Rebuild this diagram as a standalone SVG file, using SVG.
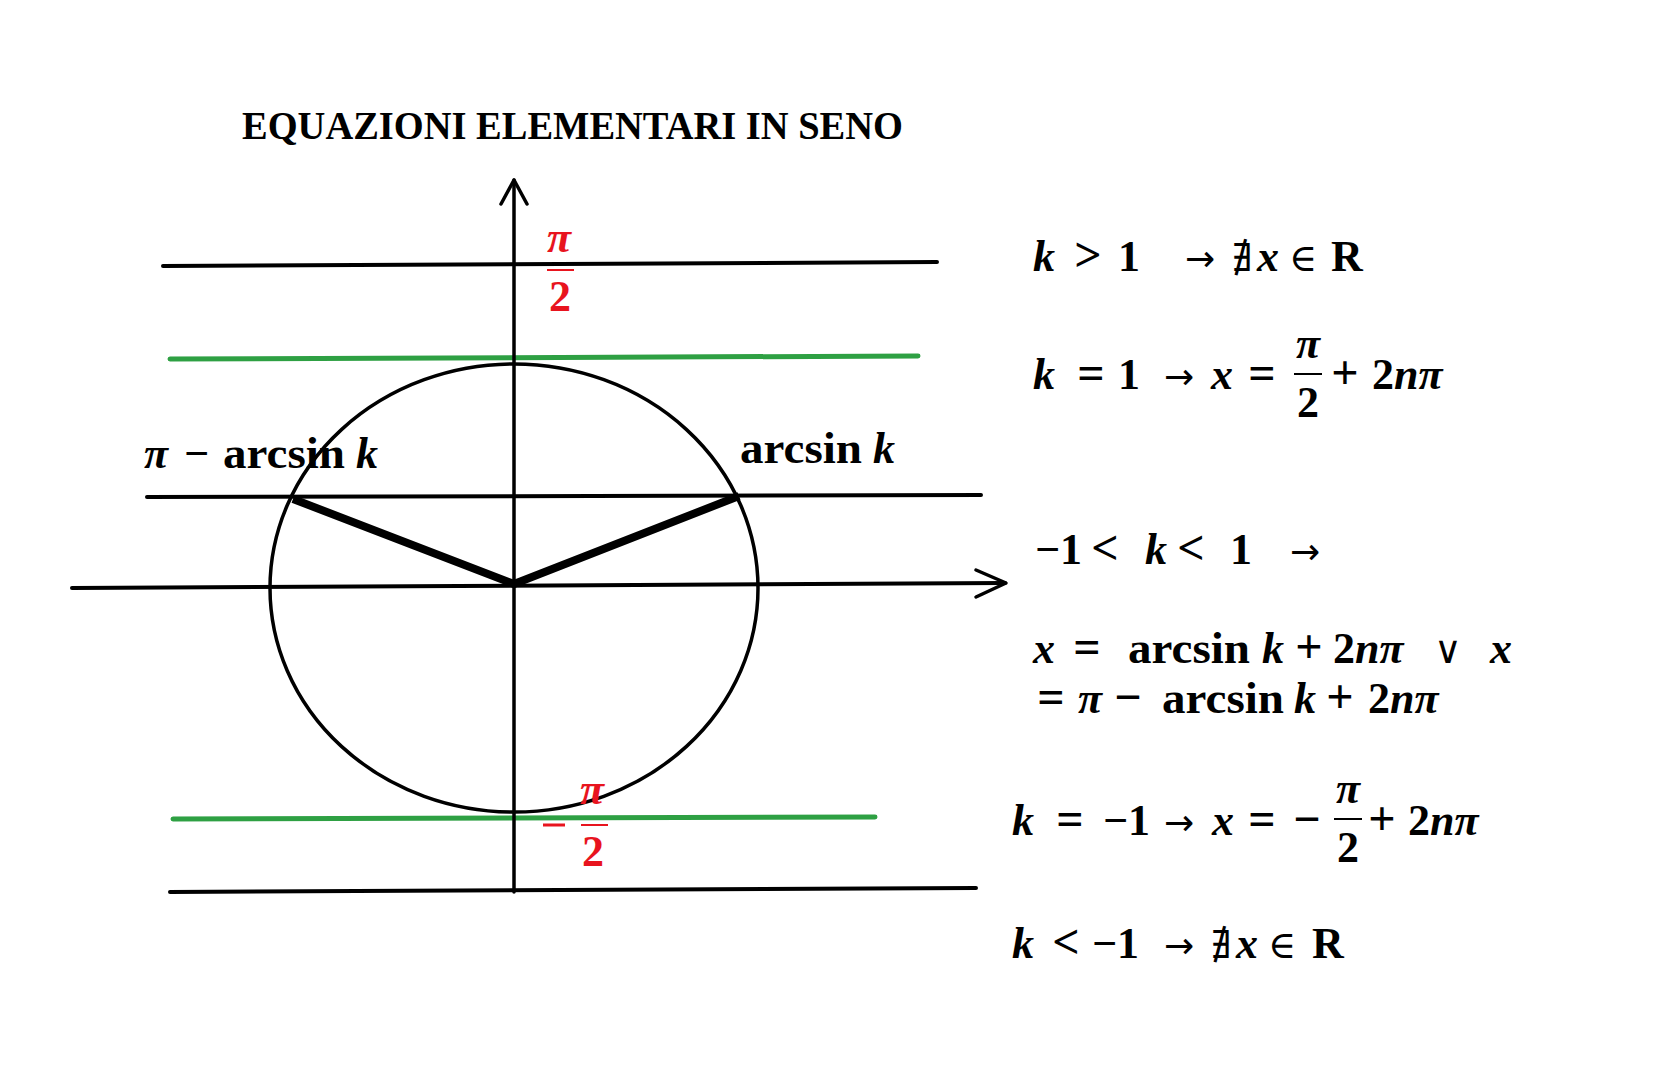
<svg xmlns="http://www.w3.org/2000/svg" width="1660" height="1080" viewBox="0 0 1660 1080">
<style>
.t{font-family:"Liberation Serif","DejaVu Serif",serif;font-weight:bold;fill:#000}
.m{font-family:"Liberation Serif","DejaVu Serif",serif;font-weight:bold;font-size:44px;fill:#000}
.i{font-style:italic}
.o{font-size:48px;text-anchor:middle}
.a{font-family:"DejaVu Sans",sans-serif;font-weight:normal;font-size:36px;text-anchor:middle}
.s{font-family:"DejaVu Serif",serif;font-weight:normal;font-size:38px;text-anchor:middle}
.r{fill:#e8141e}
.ln{stroke:#000;stroke-width:4;stroke-linecap:round;fill:none}
.g{stroke:#2ea043;stroke-width:5;stroke-linecap:round;fill:none}
.ax{stroke:#000;stroke-width:3.5;fill:none;stroke-linecap:round;stroke-linejoin:round}
</style>
<rect width="1660" height="1080" fill="#fff"/>
<g id="title"><text class="t" x="242" y="139" font-size="40" textLength="661" lengthAdjust="spacingAndGlyphs">EQUAZIONI ELEMENTARI IN SENO</text></g>
<g id="connectors">
<line class="ln" x1="163" y1="266" x2="937" y2="262"/>
<line class="g" x1="170" y1="359" x2="918" y2="356"/>
<line class="ln" x1="147" y1="497" x2="981" y2="495"/>
<line class="g" x1="173" y1="819" x2="875" y2="817"/>
<line class="ln" x1="170" y1="892" x2="976" y2="888"/>
<ellipse cx="514" cy="588" rx="244" ry="224" stroke="#000" stroke-width="3.5" fill="none"/>
<line class="ax" x1="514" y1="892" x2="514" y2="180"/>
<polyline class="ax" points="501,204 514,180 527,204"/>
<line class="ln" x1="72" y1="588" x2="1005" y2="583"/>
<polyline class="ax" points="976,570 1006,583 976,597"/>
<polyline points="293,499 514,584 739,496" stroke="#000" stroke-width="8" fill="none" stroke-linejoin="round"/>
</g>
<g id="label-top" class="m r">
<text x="559" y="252" text-anchor="middle" class="i">π</text>
<line x1="547" y1="270" x2="574" y2="270" stroke="#e8141e" stroke-width="2"/>
<text x="560" y="311" text-anchor="middle">2</text>
</g>
<g id="label-bottom" class="m r">
<text x="592" y="804" text-anchor="middle" class="i">π</text>
<line x1="543" y1="825" x2="565" y2="825" stroke="#e8141e" stroke-width="3"/>
<line x1="581" y1="825" x2="608" y2="825" stroke="#e8141e" stroke-width="2"/>
<text x="593" y="866" text-anchor="middle">2</text>
</g>
<g id="label-left" class="m">
<text x="144" y="468" class="i">π</text>
<text x="184" y="468">−</text>
<text x="223" y="468" textLength="122" lengthAdjust="spacingAndGlyphs">arcsin</text>
<text x="356" y="468" class="i">k</text>
</g>
<g id="label-right" class="m">
<text x="740" y="463" textLength="122" lengthAdjust="spacingAndGlyphs">arcsin</text>
<text x="873" y="463" class="i">k</text>
</g>
<g id="eq1"><text class="m" y="271"><tspan x="1033" class="i">k</tspan><tspan x="1088" class="o">&gt;</tspan><tspan x="1118">1</tspan><tspan x="1200" class="a">→</tspan><tspan x="1242" class="s">∄</tspan><tspan x="1257" class="i">x</tspan><tspan x="1303" class="s">∈</tspan><tspan x="1331">R</tspan></text></g>
<g id="eq2">
<text class="m" y="389"><tspan x="1033" class="i">k</tspan><tspan x="1091" class="o">=</tspan><tspan x="1118">1</tspan><tspan x="1179" class="a">→</tspan><tspan x="1211" class="i">x</tspan><tspan x="1262" class="o">=</tspan></text>
<text class="m i" x="1308" y="358" text-anchor="middle">π</text>
<line x1="1294" y1="374" x2="1322" y2="374" stroke="#000" stroke-width="2"/>
<text class="m" x="1308" y="417" text-anchor="middle">2</text>
<text class="m" y="389"><tspan x="1345" class="o">+</tspan><tspan x="1372">2<tspan class="i">nπ</tspan></tspan></text>
</g>
<g id="eq3"><text class="m" y="564"><tspan x="1035">−1</tspan><tspan x="1105" class="o">&lt;</tspan><tspan x="1145" class="i">k</tspan><tspan x="1191" class="o">&lt;</tspan><tspan x="1230">1</tspan><tspan x="1305" class="a">→</tspan></text></g>
<g id="eq4">
<text class="m" y="663"><tspan x="1033" class="i">x</tspan><tspan x="1087" class="o">=</tspan></text>
<text class="m" x="1128" y="663" textLength="122" lengthAdjust="spacingAndGlyphs">arcsin</text>
<text class="m" y="663"><tspan x="1262" class="i">k</tspan><tspan x="1309" class="o">+</tspan><tspan x="1333">2<tspan class="i">nπ</tspan></tspan><tspan x="1448" class="s">∨</tspan><tspan x="1490" class="i">x</tspan></text>
<text class="m" y="713"><tspan x="1051" class="o">=</tspan><tspan x="1078" class="i">π</tspan><tspan x="1128" class="o">−</tspan></text>
<text class="m" x="1162" y="713" textLength="122" lengthAdjust="spacingAndGlyphs">arcsin</text>
<text class="m" y="713"><tspan x="1294" class="i">k</tspan><tspan x="1340" class="o">+</tspan><tspan x="1368">2<tspan class="i">nπ</tspan></tspan></text>
</g>
<g id="eq5">
<text class="m" y="835"><tspan x="1012" class="i">k</tspan><tspan x="1070" class="o">=</tspan><tspan x="1103">−1</tspan><tspan x="1179" class="a">→</tspan><tspan x="1212" class="i">x</tspan><tspan x="1262" class="o">=</tspan><tspan x="1307" class="o">−</tspan></text>
<text class="m i" x="1348" y="803" text-anchor="middle">π</text>
<line x1="1334" y1="819" x2="1362" y2="819" stroke="#000" stroke-width="2"/>
<text class="m" x="1348" y="862" text-anchor="middle">2</text>
<text class="m" y="835"><tspan x="1382" class="o">+</tspan><tspan x="1408">2<tspan class="i">nπ</tspan></tspan></text>
</g>
<g id="eq6"><text class="m" y="958"><tspan x="1012" class="i">k</tspan><tspan x="1066" class="o">&lt;</tspan><tspan x="1092">−1</tspan><tspan x="1179" class="a">→</tspan><tspan x="1221" class="s">∄</tspan><tspan x="1236" class="i">x</tspan><tspan x="1282" class="s">∈</tspan><tspan x="1312">R</tspan></text></g>
</svg>
